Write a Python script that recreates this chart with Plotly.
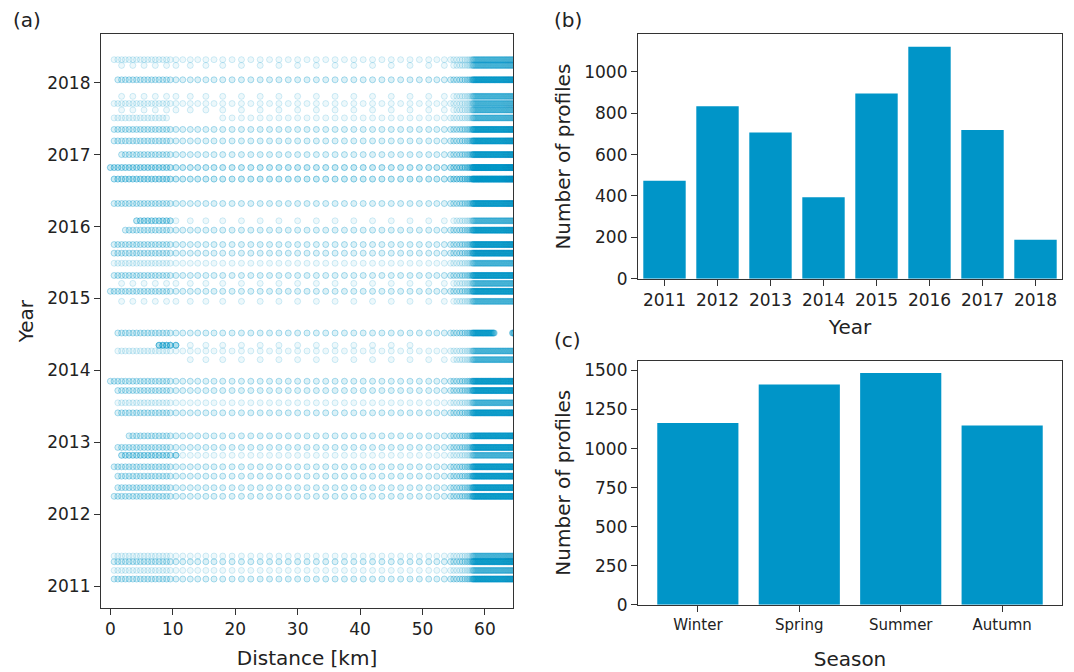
import plotly.graph_objects as go

# ---------------- data ----------------
# station grids along the transect [km]
coast_km = [0.0, 0.6, 1.2, 1.8, 2.4, 3.0, 3.6, 4.2, 4.8, 5.4, 6.0, 6.6, 7.2, 7.8, 8.4, 9.0, 9.6]
open_km = [10.5, 11.6, 12.8, 14.0, 15.3, 16.6, 18.0, 19.5, 21.0, 22.5, 24.0, 25.5, 27.0, 28.5, 30.0,
           31.5, 33.0, 34.5, 36.0, 37.5, 39.0, 40.5, 42.0, 43.5, 45.0, 46.5, 48.0, 49.5, 51.0,
           52.3, 53.5, 54.5]
shelf_km = [55.0, 55.5, 56.0, 56.4, 56.8, 57.2, 57.5, 57.8,
            58.0, 58.1, 58.2, 58.3, 58.4, 58.5, 58.6, 58.7, 58.8, 58.9,
            59.0, 59.1, 59.2, 59.3, 59.4, 59.5, 59.6, 59.7, 59.8, 59.9,
            60.0, 60.1, 60.2, 60.3, 60.4, 60.5, 60.6, 60.7, 60.8, 60.9,
            61.0, 61.1, 61.2, 61.3, 61.4, 61.5, 61.6, 61.7, 61.8, 61.9,
            62.0, 62.1, 62.2, 62.3, 62.4, 62.5, 62.6, 62.7, 62.8, 62.9,
            63.0, 63.1, 63.2, 63.3, 63.4, 63.5, 63.6, 63.7, 63.8, 63.9,
            64.0, 64.1, 64.2, 64.3, 64.4, 64.5, 64.6, 64.7, 64.8, 64.9, 65.0]

# cruise segments: decimal year, first km, last km, sampling kind (d=dense, s=sparse), profiles
seg_year = [2018.32, 2018.24, 2018.04, 2017.81, 2017.71, 2017.62, 2017.51, 2017.51, 2017.35,
            2017.19, 2017.00, 2016.82, 2016.66, 2016.32, 2016.08, 2016.08, 2015.95, 2015.75,
            2015.63, 2015.49, 2015.32, 2015.21, 2015.10, 2014.96, 2014.52, 2014.52, 2014.35,
            2014.35, 2014.27, 2014.15, 2013.85, 2013.72, 2013.55, 2013.41, 2013.09, 2012.93,
            2012.82, 2012.82, 2012.66, 2012.53, 2012.37, 2012.25, 2011.42, 2011.34, 2011.22,
            2011.10]
seg_from = [0.5, 0.5, 1.0, 0.5, 0.3, 0.5, 0.3, 17.0, 0.5,
            0.3, 1.5, 0.0, 0.5, 0.5, 4.0, 10.0, 2.0, 0.5,
            0.5, 0.5, 0.5, 1.0, 0.0, 1.0, 1.0, 64.4, 7.7,
            11.2, 1.0, 11.0, 0.0, 1.0, 1.0, 1.0, 2.5, 1.0,
            1.5, 10.5, 0.5, 1.0, 1.0, 0.5, 0.5, 0.5, 0.5,
            0.5]
seg_to = [65, 65, 65, 65, 65, 65, 9.0, 65, 65,
          65, 65, 65, 65, 65, 9.6, 65, 65, 65,
          65, 65, 65, 65, 65, 65, 61.5, 64.8, 11.2,
          48.0, 65, 65, 65, 65, 65, 65, 65, 65,
          10.5, 65, 65, 65, 65, 65, 65, 65, 65,
          65]
seg_kind = ['d', 's', 'd', 's', 'd', 's', 'd', 'd', 'd',
            'd', 'd', 'd', 'd', 'd', 'd', 's', 'd', 'd',
            'd', 'd', 'd', 's', 'd', 's', 'd', 'd', 'd',
            's', 'd', 's', 'd', 'd', 'd', 'd', 'd', 'd',
            'd', 'd', 'd', 'd', 'd', 'd', 'd', 'd', 'd',
            'd']
seg_count = [1, 1, 2, 1, 1, 1, 1, 1, 2,
             2, 2, 3, 3, 2, 3, 1, 2, 2,
             2, 1, 2, 1, 2, 1, 2, 2, 5,
             1, 1, 1, 2, 2, 1, 2, 2, 2,
             3, 1, 2, 2, 2, 2, 1, 2, 1,
             2]

years = [2011, 2012, 2013, 2014, 2015, 2016, 2017, 2018]
profiles_per_year = [473, 833, 707, 394, 895, 1121, 719, 188]

seasons = ['Winter', 'Spring', 'Summer', 'Autumn']
profiles_per_season = [1163, 1410, 1483, 1147]

# ---------------- build scatter points ----------------
px, py = [], []
for yr, a, b, kind, n in zip(seg_year, seg_from, seg_to, seg_kind, seg_count):
    if kind == 'd':
        grid = coast_km + open_km + shelf_km
    else:
        grid = coast_km[::3] + open_km[::2] + shelf_km
    pts = [d for d in grid if a <= d <= b]
    for _ in range(n):
        px.extend(pts)
        py.extend([yr] * len(pts))

BAR = '#0095C8'
PT_FILL = 'rgba(0,149,200,0.07)'
PT_EDGE = 'rgba(0,149,200,0.17)'
TXT = '#222222'
AX = '#333333'
W, H = 1074, 672

def dom_x(x0, x1):
    return [x0 / W, x1 / W]

def dom_y(top, bottom):
    return [(H - bottom) / H, (H - top) / H]

fig = go.Figure()
fig.add_trace(go.Scatter(x=px, y=py, mode='markers', xaxis='x', yaxis='y',
                         marker=dict(size=6, color=PT_FILL, line=dict(color=PT_EDGE, width=1)),
                         showlegend=False, hoverinfo='skip'))
fig.add_trace(go.Bar(x=years, y=profiles_per_year, xaxis='x2', yaxis='y2', width=0.8,
                     marker=dict(color=BAR, line=dict(width=0)), showlegend=False))
fig.add_trace(go.Bar(x=seasons, y=profiles_per_season, xaxis='x3', yaxis='y3', width=0.8,
                     marker=dict(color=BAR, line=dict(width=0)), showlegend=False))

common = dict(showline=True, mirror=True, linecolor=AX, linewidth=1.2, ticks='outside',
              ticklen=6, tickwidth=1.2, tickcolor=AX, showgrid=False, zeroline=False,
              tickfont=dict(size=17, color=TXT), title_font=dict(size=20, color=TXT))

fig.update_layout(
    width=W, height=H, margin=dict(l=0, r=0, t=0, b=0),
    paper_bgcolor='white', plot_bgcolor='white',
    font=dict(family='DejaVu Sans', color=TXT),
    bargap=0.2,
    xaxis=dict(domain=dom_x(101, 513), range=[-1.5, 64.5], tickvals=[0, 10, 20, 30, 40, 50, 60],
               title=dict(text='Distance [km]', standoff=12), anchor='y', **common),
    yaxis=dict(domain=dom_y(35, 617), range=[2010.70, 2018.67],
               tickvals=[2011, 2012, 2013, 2014, 2015, 2016, 2017, 2018],
               title=dict(text='Year', standoff=8), anchor='x', **common),
    xaxis2=dict(domain=dom_x(638, 1062), range=[2010.5, 2018.5], tickvals=years,
                title=dict(text='Year', standoff=10), anchor='y2', **common),
    yaxis2=dict(domain=dom_y(35, 283), range=[0, 1180], tickvals=[0, 200, 400, 600, 800, 1000],
                title=dict(text='Number of profiles', standoff=8), anchor='x2', **common),
    xaxis3=dict(domain=dom_x(638, 1062), range=[-0.59, 3.59], type='category',
                title=dict(text='Season', standoff=19), anchor='y3', **common),
    yaxis3=dict(domain=dom_y(366, 614), range=[0, 1563],
                tickvals=[0, 250, 500, 750, 1000, 1250, 1500],
                title=dict(text='Number of profiles', standoff=8), anchor='x3', **common),
)
fig.update_xaxes(tickfont=dict(size=15), selector=dict(anchor='y3'))

for label, x, y in [('(a)', 11, 20), ('(b)', 552, 20), ('(c)', 552, 345)]:
    fig.add_annotation(text=label, xref='paper', yref='paper', x=x / W, y=(H - y) / H,
                       xanchor='left', yanchor='middle', showarrow=False,
                       font=dict(size=20, color=TXT))

fig.write_html('out.html')
